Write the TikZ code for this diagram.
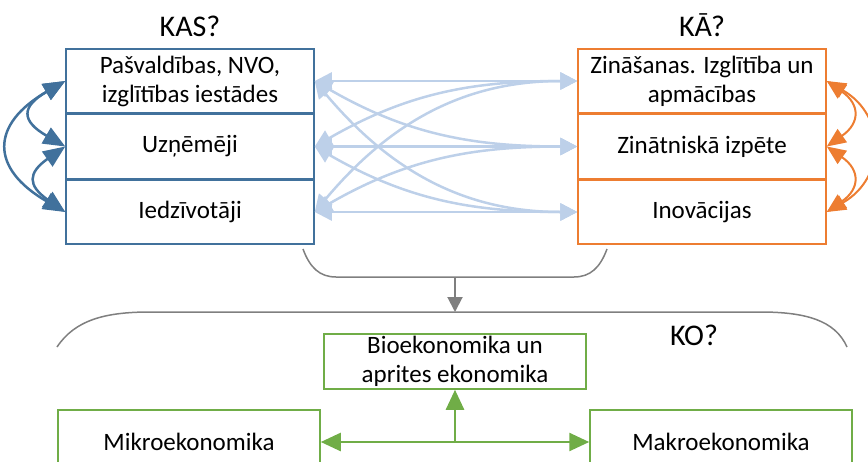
\documentclass[tikz,border=0pt]{standalone}
\usepackage{fontspec}
\setmainfont{Carlito}
\usetikzlibrary{arrows.meta,positioning}
\definecolor{kasBlue}{RGB}{65,113,156}
\definecolor{kaOrange}{RGB}{237,125,49}
\definecolor{koGreen}{RGB}{112,173,71}
\definecolor{linkBlue}{RGB}{189,208,233}
\definecolor{braceGray}{RGB}{127,127,127}

\begin{document}
\begin{tikzpicture}[x=1pt,y=-1pt,
    row/.style={draw,line width=1.5pt,minimum width=248pt,minimum height=64pt,align=center,inner sep=0pt,font=\fontsize{25}{29}\selectfont},
    kasrow/.style={row,draw=kasBlue},
    karow/.style={row,draw=kaOrange},
    korow/.style={row,draw=koGreen,minimum width=262pt},
    title/.style={inner sep=0pt,font=\fontsize{30}{34}\selectfont},
    link/.style={{Triangle[length=17pt,width=17pt]}-{Triangle[length=17pt,width=17pt]},line width=2.5pt,linkBlue},
    kasarrow/.style={{Triangle[length=22pt,width=18pt]}-{Triangle[length=22pt,width=18pt]},line width=2.5pt,kasBlue},
    kaarrow/.style={{Triangle[length=19pt,width=16pt]}-{Triangle[length=19pt,width=16pt]},line width=2pt,kaOrange},
    koarrow/.style={-{Triangle[length=20pt,width=18pt]},line width=2.5pt,koGreen},
    brace/.style={line width=1.5pt,braceGray},
    flow/.style={-{Triangle[length=15pt,width=15pt]},line width=2pt,braceGray}
  ]
    \useasboundingbox (0,0) rectangle (868,461);
    \clip (0,0) rectangle (868,461);
    % KAS?
    \node[kasrow] (pasv) at (190,81) {Pašvaldības, NVO,\\izglītības iestādes};
    \node[kasrow,below=0pt of pasv] (uzn) {Uzņēmēji};
    \node[kasrow,below=0pt of uzn] (iedz) {Iedzīvotāji};
    \node[title,above=11pt of pasv] (kas) {KAS?};
    % KĀ?
    \node[karow] (zin) at (702,81) {Zināšanas. Izglītība un\\apmācības};
    \node[karow,below=0pt of zin] (izp) {Zinātniskā izpēte};
    \node[karow,below=0pt of izp] (inov) {Inovācijas};
    \node[title,above=11pt of zin] (ka) {KĀ?};
    % KO?
    \node[korow,minimum height=55pt] (bio) at (455,361.5) {Bioekonomika un\\aprites ekonomika};
    \node[korow] (mikro) at (189,442) {Mikroekonomika};
    \node[korow] (makro) at (721,442) {Makroekonomika};
    \node[title,anchor=base] (ko) at (694,345) {KO?};
    % links between KAS? and KĀ?
    \draw[link] (pasv.east) -- (zin.west);
    \draw[link] (pasv.east) to[out=-30,in=180] (izp.west);
    \draw[link] (pasv.east) to[out=-50,in=180] (inov.west);
    \draw[link] (uzn.east) to[out=30,in=180] (zin.west);
    \draw[link] (uzn.east) -- (izp.west);
    \draw[link] (uzn.east) to[out=-30,in=180] (inov.west);
    \draw[link] (iedz.east) to[out=50,in=180] (zin.west);
    \draw[link] (iedz.east) to[out=30,in=180] (izp.west);
    \draw[link] (iedz.east) -- (inov.west);
    % inside each group
    \draw[kasarrow] (pasv.west) to[out=210,in=150,looseness=2] (uzn.west);
    \draw[kasarrow] (uzn.west) to[out=215,in=145,looseness=1.8] (iedz.west);
    \draw[kasarrow] (pasv.west) to[out=210,in=150,looseness=1.7] (iedz.west);
    \draw[kaarrow] (zin.east) to[out=-35,in=35,looseness=1.6] (izp.east);
    \draw[kaarrow] (izp.east) to[out=-35,in=35,looseness=1.6] (inov.east);
    \draw[kaarrow] (zin.east) to[out=-30,in=30,looseness=1.35] (inov.east);
    % braces
    \draw[brace] (303,249) .. controls (310,268) and (320,277) .. (336,277) -- (574,277) .. controls (590,277) and (600,268) .. (607,249);
    \coordinate (braceMid) at (455,277);
    \draw[brace] (57,347) .. controls (75,320) and (105,312) .. (150,312) -- (760,312) .. controls (805,312) and (835,320) .. (847,347);
    \coordinate (arcTop) at (455,312);
    \draw[flow] (braceMid) -- (arcTop);
    % KO? arrows
    \draw[koarrow,{Triangle[length=20pt,width=18pt]}-{Triangle[length=20pt,width=18pt]}] (mikro.east) -- (makro.west);
    \draw[koarrow] (bio.south |- mikro.east) -- (bio.south);
  \end{tikzpicture}
\end{document}
